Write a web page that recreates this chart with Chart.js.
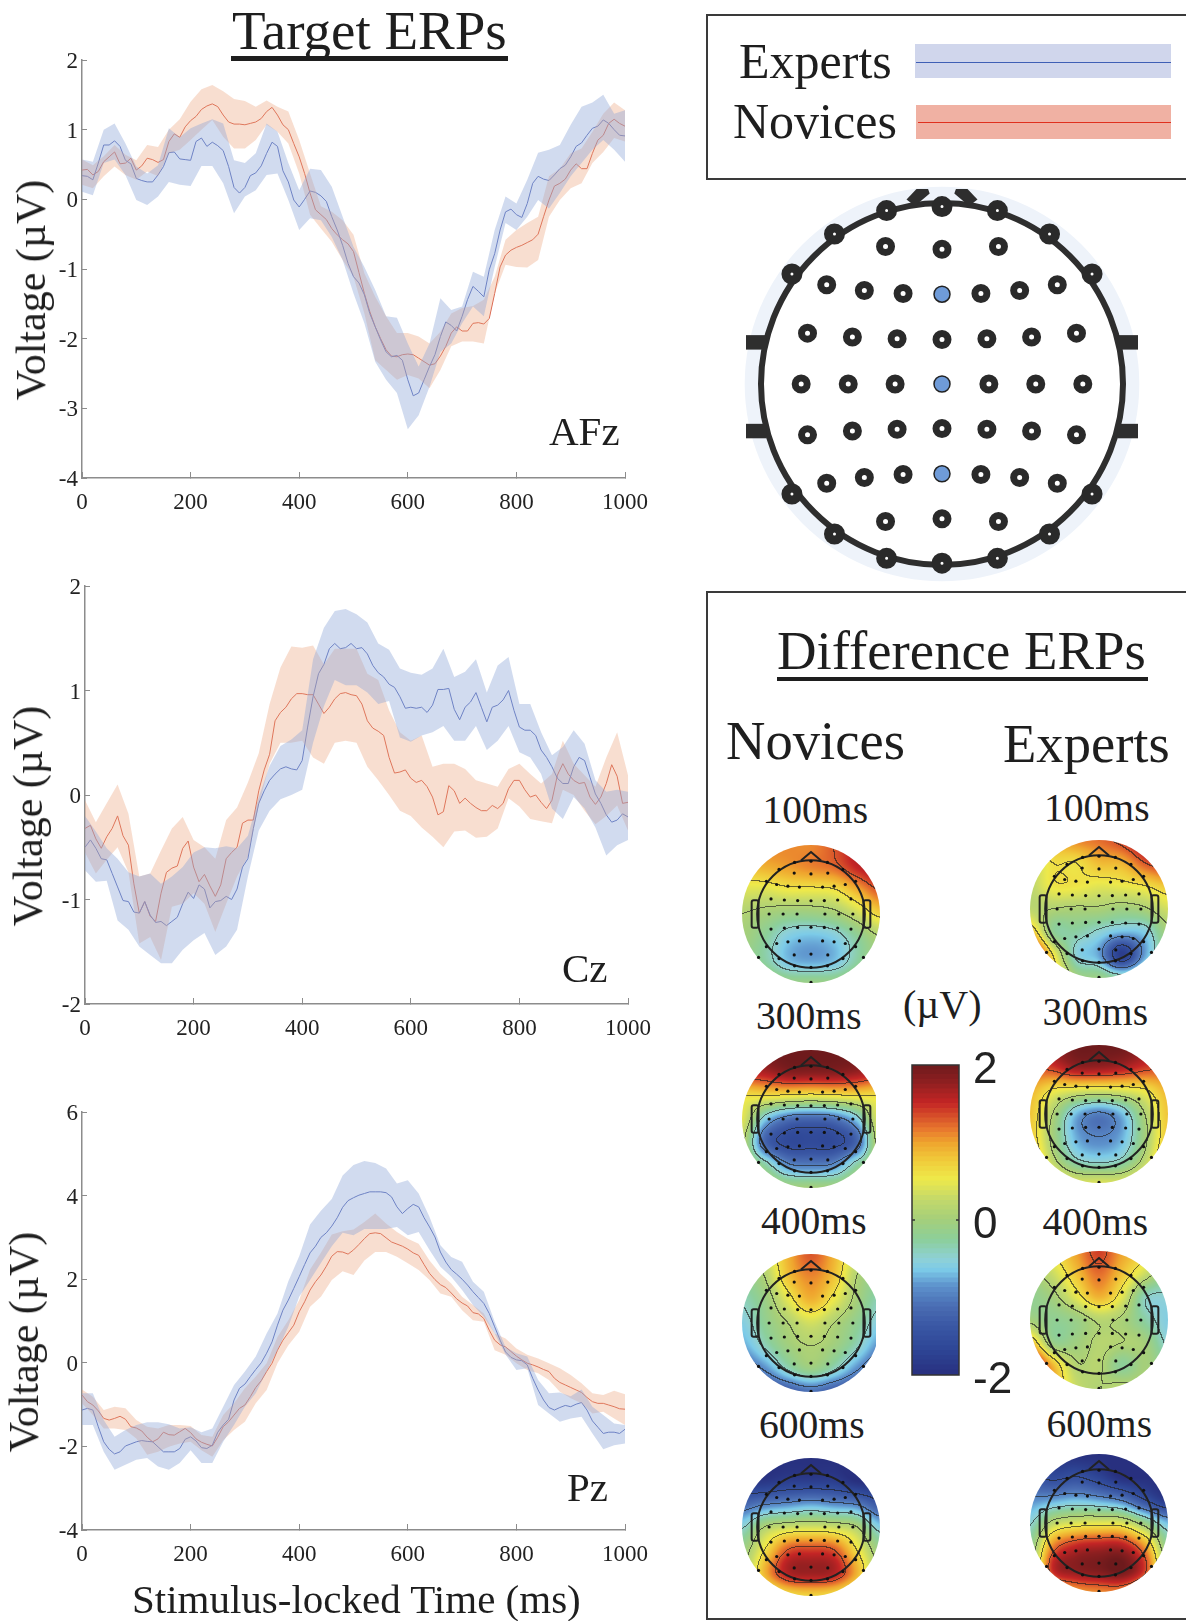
<!DOCTYPE html>
<html>
<head>
<meta charset="utf-8">
<title>Target ERPs</title>
<script src="https://cdn.jsdelivr.net/npm/chart.js@4"></script>
<style>
  html, body { margin: 0; padding: 0; background: #fff; }
  #page { position: relative; width: 1186px; height: 1621px; overflow: hidden; }
  #page canvas { position: absolute; }
  .txt { position: absolute; white-space: nowrap; line-height: 1; color: #1e1e1e; font-family: "Liberation Serif", serif; }
  .box { position: absolute; border: 2px solid #3a3a3a; box-sizing: border-box; }
  .fill { position: absolute; }
</style>
</head>
<body>
<div id="page"></div>
<script>
// ---------- data ----------
// mean lines every 10 ms, bands every 20 ms
const timeMean = [];
for (let t = 0; t <= 1000; t += 10) timeMean.push(t);
const timeBand = [];
for (let t = 0; t <= 1000; t += 20) timeBand.push(t);

// AFz
const afzExperts = [.34,.33,.28,.52,.78,.78,.84,.76,.56,.51,.30,.27,.25,.25,.35,.47,.67,.68,.58,.57,.56,.83,.88,.76,.82,.77,.70,.47,.17,.09,.17,.34,.38,.48,.66,.82,.76,.41,.25,-.01,-.11,0,.12,.10,.05,-.03,-.25,-.44,-.66,-.92,-1.11,-1.2,
  -1.37,-1.64,-1.83,-2.02,-2.19,-2.26,-2.24,-2.31,-2.59,-2.82,-2.78,-2.59,-2.4,-2.23,-1.97,-1.76,-1.81,-1.89,-1.68,-1.44,-1.25,-1.32,-1.4,-1.01,-.78,-.44,-.18,-.14,-.22,-.26,-.06,.23,.33,.29,.27,.35,.44,.49,.61,.76,.81,.92,1.02,1.05,1.14,1.09,1.0,.92,.91];
const afzNovices = [.42,.43,.35,.40,.54,.61,.68,.51,.52,.59,.42,.48,.59,.57,.53,.57,.83,.94,.89,1.04,1.13,1.19,1.29,1.34,1.37,1.33,1.21,1.11,1.08,1.08,1.07,1.09,1.11,1.16,1.26,1.32,1.21,1.07,1.0,.80,.61,.37,.09,-.15,-.22,-.29,-.42,-.51,-.58,-.64,-.75,-1.05,
  -1.35,-1.61,-1.83,-2.0,-2.16,-2.25,-2.26,-2.23,-2.22,-2.23,-2.28,-2.33,-2.38,-2.36,-2.25,-2.11,-1.92,-1.83,-1.89,-1.89,-1.78,-1.77,-1.79,-1.71,-1.35,-.97,-.8,-.73,-.69,-.66,-.62,-.58,-.5,-.25,-.01,.19,.23,.29,.42,.51,.44,.44,.66,.85,.92,1.09,1.15,1.09,1.05];
const afzExpertsUpper = [.57,.54,1.0,1.09,.80,.47,.37,.49,1.02,.89,1.02,1.09,1.15,1.09,.56,.52,.66,1.09,.97,.52,.13,.44,.42,.18,-.25,-.68,-.97,-1.3,-1.68,-1.7,-2.07,-2.4,-2.07,-1.42,-1.59,-1.54,-1.04,-1.11,-.44,.04,-.06,.28,.67,.71,.78,1.07,1.33,1.39,1.5,1.23,1.28];
const afzExpertsLower = [.11,.06,.52,.57,.35,-.01,-.08,.04,.25,.21,.19,.48,.48,.23,-.2,.04,.13,.35,.37,-.01,-.44,-.27,-.3,-.54,-.87,-1.35,-1.78,-2.33,-2.59,-2.78,-3.3,-3.1,-2.69,-2.19,-2.07,-1.78,-1.54,-1.68,-.97,-.34,-.44,-.25,-.01,-.13,.09,.33,.52,.71,.85,.71,.54];
const afzNovicesUpper = [.57,.49,.62,.78,.64,.56,.78,.75,1.0,1.15,1.4,1.58,1.64,1.55,1.44,1.41,1.33,1.42,1.33,1.26,.85,.37,-.1,-.18,-.3,-.51,-1.06,-1.4,-1.68,-1.92,-1.92,-1.97,-2.07,-1.9,-1.64,-1.56,-1.53,-1.44,-1.11,-.58,-.44,-.34,-.25,.33,.44,.66,.73,.97,1.23,1.39,1.28];
const afzNovicesLower = [.21,.16,.33,.47,.35,.28,.4,.33,.66,.71,.85,1.0,1.14,.9,.73,.73,.85,1.07,.97,.8,.37,-.22,-.42,-.61,-.87,-1.11,-1.64,-2.31,-2.45,-2.59,-2.52,-2.57,-2.71,-2.45,-2.11,-2.04,-2.04,-2.07,-1.35,-.94,-.97,-.98,-.87,-.25,-.01,.16,.23,.52,.68,.88,.83];

// Cz
const czExperts = [-.5,-.43,-.51,-.61,-.62,-.75,-.88,-1.01,-1.02,-1.12,-1.13,-1.02,-1.15,-1.22,-1.21,-1.25,-1.21,-1.17,-1.04,-.93,-.99,-.86,-.9,-1.08,-1.02,-1.01,-.97,-1.0,-.9,-.69,-.61,-.32,-.08,.04,.14,.2,.25,.27,.25,.24,.33,
  .65,.94,1.16,1.25,1.4,1.45,1.4,1.41,1.45,1.40,1.41,1.35,1.24,1.17,1.13,1.06,1.03,.94,.83,.84,.83,.84,.79,.86,1.01,1.01,1.02,.82,.72,.84,.89,.98,.84,.70,.84,.86,.91,1.0,.81,.65,.62,.62,.57,.43,.36,.27,.16,.11,.11,.27,.36,.33,.17,.01,-.08,-.19,-.26,-.24,-.18,-.21];
const czNovices = [-.32,-.29,-.42,-.51,-.40,-.32,-.2,-.39,-.48,-.85,-1.13,-1.02,-1.16,-1.21,-.94,-.74,-.70,-.68,-.51,-.44,-.69,-.83,-.76,-.87,-.97,-.86,-.61,-.55,-.5,-.27,-.24,-.24,
  .04,.24,.39,.71,.79,.84,.92,.97,.97,.96,.96,.87,.78,.84,.92,.97,.98,.96,.95,.87,.71,.64,.61,.57,.36,.21,.22,.24,.16,.12,.14,.08,-.02,-.19,-.16,.09,.04,-.08,-.03,-.08,-.12,-.15,-.15,-.1,-.13,-.08,.06,.14,.14,.05,-.02,0,-.07,-.13,-.05,.19,.3,.2,.14,.11,.12,-.02,-.09,-.02,.11,.29,.18,-.08,-.07];
const czExpertsUpper = [-.2,-.35,-.51,-.61,-.74,-.78,-.75,-.85,-.78,-.69,-.55,-.5,-.51,-.49,-.51,-.39,-.02,.28,.47,.53,.62,1.3,1.6,1.76,1.78,1.73,1.65,1.45,1.39,1.21,1.17,1.15,1.21,1.4,1.13,1.18,1.3,.98,1.24,1.32,.87,.87,.6,.38,.46,.62,.49,.14,.03,.05,.03];
const czExpertsLower = [-.72,-.83,-.82,-1.2,-1.29,-1.45,-1.53,-1.61,-1.61,-1.48,-1.39,-1.32,-1.53,-1.45,-1.29,-.78,-.34,-.15,-.04,0,.05,.5,.85,1.1,1.05,1.05,.98,.87,.9,.55,.51,.57,.6,.66,.52,.52,.66,.43,.52,.66,.41,.36,.2,-.13,-.23,-.02,-.13,-.31,-.58,-.48,-.43];
const czNovicesUpper = [-.05,-.26,-.08,.1,-.18,-.78,-.75,-.53,-.32,-.21,-.43,-.5,-.61,-.24,-.12,.12,.4,.87,1.22,1.42,1.41,1.43,1.25,1.4,1.4,1.4,1.16,1.1,.81,.6,.52,.57,.27,.3,.3,.25,.14,.11,.08,.25,.3,.2,.11,.2,.52,.3,.19,.08,.36,.6,.19];
const czNovicesLower = [-.55,-.75,-.62,-.5,-.74,-1.42,-1.36,-1.58,-1.07,-1.04,-.94,-1.04,-1.31,-1.04,-.78,-.59,-.1,.3,.5,.5,.52,.36,.3,.5,.52,.5,.27,.14,0,-.15,-.2,-.31,-.4,-.5,-.35,-.34,-.41,-.4,-.32,-.03,-.11,-.23,-.25,-.27,.05,0,-.15,-.28,-.2,-.1,-.34];

// Pz
const pzExperts = [-1.13,-1.09,-1.13,-1.53,-1.89,-2.07,-2.18,-2.13,-1.99,-1.94,-1.89,-1.86,-1.88,-1.89,-2.01,-2.13,-2.13,-2.13,-2.05,-1.83,-1.77,-1.87,-2.03,-2.05,-1.97,-1.66,-1.49,-1.35,-.89,-.61,-.51,-.33,-.16,0,.23,.5,.9,1.26,1.5,
  1.78,2.06,2.35,2.63,2.79,3.0,3.11,3.27,3.47,3.72,3.88,3.95,4.01,4.05,4.09,4.09,4.09,4.07,3.97,3.73,3.57,3.69,3.79,3.73,3.47,3.25,3.01,2.65,2.41,2.23,2.12,2.0,1.86,1.7,1.56,1.42,1.18,.86,.54,.26,.13,.07,.05,-.05,-.37,-.65,-.89,-1.07,-1.13,-1.07,-1.02,-1.05,-.99,-.95,-1.13,-1.39,-1.54,-1.69,-1.66,-1.66,-1.69,-1.59];
const pzNovices = [-.77,-.93,-1.01,-1.15,-1.33,-1.37,-1.33,-1.28,-1.35,-1.53,-1.56,-1.63,-1.78,-1.89,-1.82,-1.66,-1.72,-1.73,-1.65,-1.57,-1.67,-1.82,-1.9,-1.95,-1.99,-1.78,-1.53,-1.41,-1.25,-1.09,-1.01,-.81,-.59,-.43,-.21,-.01,.3,.54,.72,.9,1.22,1.46,
  1.74,1.94,2.1,2.31,2.55,2.66,2.65,2.6,2.7,2.83,2.97,3.09,3.11,3.09,2.99,2.89,2.84,2.79,2.72,2.63,2.57,2.35,2.14,1.99,1.87,1.8,1.67,1.53,1.43,1.36,1.2,1.17,1.06,.78,.54,.43,.38,.27,.16,.07,-.01,-.05,-.1,-.16,-.21,-.37,-.47,-.53,-.59,-.65,-.71,-.83,-.93,-.97,-.97,-1.01,-1.05,-1.1,-1.11];
const pzExpertsUpper = [-.73,-.73,-1.37,-1.77,-1.61,-1.49,-1.42,-1.42,-1.47,-1.57,-1.54,-1.66,-1.57,-1.05,-.53,-.21,.15,.7,1.18,1.95,2.55,3.31,3.64,3.92,4.48,4.73,4.83,4.78,4.65,4.29,4.37,4.05,3.49,2.81,2.53,2.42,1.94,1.7,.98,.38,.23,.15,-.41,-.73,-.71,-.8,-.64,-1.05,-1.25,-1.45,-1.49];
const pzExpertsLower = [-1.49,-1.49,-2.13,-2.56,-2.44,-2.32,-2.28,-2.48,-2.56,-2.4,-2.09,-2.4,-2.4,-1.89,-1.49,-1.05,-.73,-.21,.3,.86,1.58,1.98,2.39,2.79,3.11,3.05,3.2,3.2,3.2,3.25,3.05,3.13,2.7,2.3,2.06,1.74,1.38,1.1,.7,.2,-.17,-.13,-1.01,-1.21,-1.41,-1.33,-1.29,-1.69,-2.07,-1.97,-1.93];
const pzNovicesUpper = [-.64,-.81,-1.13,-1.05,-1.09,-1.37,-1.53,-1.57,-1.49,-1.49,-1.51,-1.73,-1.77,-1.25,-.97,-.61,-.33,-.01,.62,1.02,1.5,2.23,2.63,3.07,3.15,3.19,3.37,3.57,3.33,3.13,2.97,2.85,2.45,2.13,1.9,1.58,1.38,1.18,.7,.58,.34,.19,.1,-.01,-.13,-.29,-.49,-.73,-.77,-.67,-.75];
const pzNovicesLower = [-.97,-1.25,-1.57,-1.57,-1.61,-1.81,-2.2,-2.13,-2.01,-1.93,-1.89,-2.09,-2.25,-1.85,-1.61,-1.41,-.97,-.65,-.01,.42,.74,1.34,1.58,1.98,2.19,2.1,2.45,2.65,2.65,2.54,2.38,2.22,1.98,1.66,1.58,1.26,1.02,.98,.3,.19,-.01,-.17,-.25,-.41,-.69,-.85,-.97,-1.21,-1.17,-1.33,-1.49];

// electrode montage, head radius = 1
const ringX = [0,0,-.306,.306,-.594,.594,-.829,.829,-.829,.829,-.594,.594,-.306,.306];
const ringY = [.98,-.99,.958,.958,.829,.829,.608,.608,-.608,-.608,-.829,-.829,-.963,-.963];
const innerX = [-.312,0,.312,-.637,-.429,-.215,.215,.429,.637,-.743,-.495,-.248,0,.248,.495,.743,-.778,-.518,-.259,.259,.518,.778,-.743,-.495,-.248,0,.248,.495,.743,-.637,-.429,-.215,.215,.429,.637,-.312,0,.312];
const innerY = [.76,.744,.76,.548,.517,.5,.5,.517,.548,.281,.26,.25,.246,.25,.26,.281,0,0,0,0,0,0,-.281,-.26,-.25,-.246,-.25,-.26,-.281,-.548,-.517,-.5,-.5,-.517,-.548,-.76,-.744,-.76];
const pickedX = [0,0,0];
const pickedY = [.496,0,-.496];
const outerDotX = [-.76,.76,0];
const outerDotY = [-.63,-.63,-.99];

// scalp maps: µV on a 7x7 grid, rows top to bottom, columns left to right
const novices100 = [[1,1.1,1.1,1.1,1.3,1.6,1.7],[.8,.9,1,1.1,1.2,1.5,1.7],[.4,.4,.5,.5,.55,.9,1.3],[.1,0,-.1,-.1,0,.3,.7],[0,-.25,-.6,-.7,-.6,-.25,.1],[-.1,-.3,-.7,-.8,-.7,-.3,0],[.1,.05,-.1,-.1,-.1,.05,.1]];
const experts100 = [[.7,.9,1.1,1.2,1.4,1.7,1.7],[.3,.6,.6,.85,.9,1.3,1.5],[.2,.55,.55,.45,.5,.6,.8],[.2,.1,.05,.05,-.05,.05,.35],[.9,-.2,-.3,-.5,-.7,-.6,0],[2,.6,-.5,-.8,-1.8,-.8,-.1],[2,.9,0,-.1,-.3,-.1,.1]];
const novices300 = [[1.9,2,2,2,2,2,1.9],[1.5,1.6,1.8,1.8,1.8,1.7,1.5],[.6,.6,.55,.5,.55,.6,.6],[.45,-.6,-1.1,-1.2,-1.1,-.6,.45],[.2,-1.2,-1.6,-1.6,-1.6,-1.2,.3],[.1,-.3,-.9,-1,-.9,-.3,.1],[.1,.1,0,0,0,.1,.1]];
const experts300 = [[1.6,1.8,2,2,2,1.8,1.6],[1.3,1.4,1.7,1.7,1.6,1.4,1.3],[.9,.55,.4,.35,.4,.55,.9],[.8,.1,-.7,-1,-.7,.1,.8],[.8,0,-.75,-.95,-.75,0,.8],[1,.2,-.4,-.55,-.4,.2,1],[1.3,.7,.4,.4,.4,.7,1.3]];
const novices400 = [[.1,.3,.9,1.3,.9,.3,0],[-.2,.1,.8,1.1,.8,.1,-.2],[-.4,-.1,.45,.9,.5,0,-.4],[-.6,-.2,.1,.35,.1,-.2,-.6],[-.8,-.4,-.05,.1,-.05,-.4,-.9],[-1.2,-.9,-.4,-.1,-.4,-.9,-1.3],[-1.6,-1.5,-1.3,-1.1,-1.3,-1.5,-1.6]];
const experts400 = [[.3,.6,1,1.4,1,.7,.2],[0,.3,.8,1.2,.8,.3,-.2],[-.2,0,.45,.9,.45,-.4,-.5],[0,-.2,-.1,.15,.05,-.3,-.6],[.9,-.1,-.05,.15,.1,0,-.5],[2,.9,.15,.15,-.25,0,-.2],[2,1,.3,.1,.2,.1,0]];
const novices600 = [[-1.9,-2,-2,-2,-2,-2,-1.9],[-1.9,-1.9,-1.8,-1.8,-1.8,-2,-2],[-1.2,-1,-.9,-.8,-.9,-1,-1.4],[-.5,.1,.3,.35,.3,.1,-.6],[-.1,.6,1.3,1.4,1.3,.6,-.1],[0,.9,1.6,1.7,1.6,.9,0],[0,.3,.6,.7,.6,.3,0]];
const experts600 = [[-1.5,-1.9,-2,-2,-2,-2,-2],[-1.4,-1.6,-1.5,-1.7,-2,-2,-2],[-.9,-.8,-.7,-.8,-1,-1.5,-1.9],[-.5,.2,.4,.45,.4,-.1,-.7],[-.2,1.1,1.5,1.6,1.6,1,-.2],[-.1,1.5,1.8,1.9,2,1.4,0],[.1,.7,1,1.1,1.1,.7,.1]];
const contourLevels = [-1.5,-.95,-.45,.1,.6,1.3];

// colour scale, µV to colour
const scaleValues = [-2,-1.68,-1.38,-1.12,-.86,-.65,-.52,-.26,0,.26,.52,.77,.99,1.16,1.5,1.77,2];
const scaleColors = ['#28307f','#2e4696','#3a57a4','#4a6db3','#5d92cc','#7ccbe8','#8ed0d8','#8ccf9a','#a5cf7a','#c4d96a','#eee94a','#f0c93a','#efa42e','#e8782e','#c42525','#8e1f20','#6d1a1c'];

// ---------- helpers ----------
const page = document.getElementById('page');
const SERIF = '"Liberation Serif", serif';
const BLUE_BAND = 'rgba(140,165,215,0.4)';
const RED_BAND = 'rgba(235,160,120,0.35)';
const BLUE_LINE = '#5b6cb8';
const RED_LINE = '#d8604c';

function zip(xs, ys) {
    return xs.map((x, i) => ({x: x, y: ys[i]}));
}

function addCanvas(left, top, w, h) {
    const c = document.createElement('canvas');
    c.width = w;
    c.height = h;
    c.style.left = left + 'px';
    c.style.top = top + 'px';
    c.style.width = w + 'px';
    c.style.height = h + 'px';
    page.appendChild(c);
    return c;
}

// x is the left edge, y the baseline
function addText(text, x, y, size) {
    const s = document.createElement('span');
    s.className = 'txt';
    s.textContent = text;
    s.style.left = x + 'px';
    s.style.top = (y - 0.8375 * size) + 'px';
    s.style.fontSize = size + 'px';
    page.appendChild(s);
}

function addRotated(text, baseX, centerY, size) {
    const s = document.createElement('span');
    s.className = 'txt';
    s.textContent = text;
    s.style.left = (baseX - 0.3375 * size) + 'px';
    s.style.top = centerY + 'px';
    s.style.fontSize = size + 'px';
    s.style.transform = 'translate(-50%,-50%) rotate(-90deg)';
    page.appendChild(s);
}

function addFill(left, top, w, h, color) {
    const d = document.createElement('div');
    d.className = 'fill';
    d.style.cssText = 'left:' + left + 'px;top:' + top + 'px;width:' + w + 'px;height:' + h + 'px;background:' + color;
    page.appendChild(d);
}

function addBox(left, top, w, h) {
    const d = document.createElement('div');
    d.className = 'box';
    d.style.cssText = 'left:' + left + 'px;top:' + top + 'px;width:' + w + 'px;height:' + h + 'px';
    page.appendChild(d);
}

function hexRgb(h) {
    return [parseInt(h.slice(1, 3), 16), parseInt(h.slice(3, 5), 16), parseInt(h.slice(5, 7), 16)];
}
const scaleRgb = scaleColors.map(hexRgb);

function colourFor(v) {
    if (v <= scaleValues[0]) return scaleRgb[0];
    for (let i = 1; i < scaleValues.length; i++) {
        if (v <= scaleValues[i]) {
            const f = (v - scaleValues[i - 1]) / (scaleValues[i] - scaleValues[i - 1]);
            const a = scaleRgb[i - 1], b = scaleRgb[i];
            return [a[0] + (b[0] - a[0]) * f, a[1] + (b[1] - a[1]) * f, a[2] + (b[2] - a[2]) * f];
        }
    }
    return scaleRgb[scaleRgb.length - 1];
}

// nudge the layout padding until the plot area sits where it should
function pinArea(chart, want) {
    const pad = chart.options.layout.padding;
    for (let i = 0; i < 3; i++) {
        const a = chart.chartArea;
        pad.top += want.top - a.top;
        pad.left += want.left - a.left;
        pad.right += a.right - want.right;
        pad.bottom += a.bottom - want.bottom;
        chart.update();
    }
}

// ---------- ERP panels ----------
function erpChart(box, yMin, yMax, yStep, series) {
    // canvas is wider than the plot: the last tick label needs 40px of margin
    const padTop = 24, w = 700, h = box.bottom - box.top + padTop + 50;
    const canvasTop = box.top - padTop;
    const canvas = addCanvas(0, canvasTop, w, h);
    const chart = new Chart(canvas, {
        type: 'line',
        data: {
            datasets: [
                {data: zip(timeBand, series.expUp), borderWidth: 0, pointRadius: 0, fill: false},
                {data: zip(timeBand, series.expLo), borderWidth: 0, pointRadius: 0, fill: '-1', backgroundColor: BLUE_BAND},
                {data: zip(timeBand, series.novUp), borderWidth: 0, pointRadius: 0, fill: false},
                {data: zip(timeBand, series.novLo), borderWidth: 0, pointRadius: 0, fill: '-1', backgroundColor: RED_BAND},
                {label: 'Experts', data: zip(timeMean, series.exp), borderColor: BLUE_LINE, borderWidth: 1, pointRadius: 0, tension: 0, fill: false},
                {label: 'Novices', data: zip(timeMean, series.nov), borderColor: RED_LINE, borderWidth: 1, pointRadius: 0, tension: 0, fill: false}
            ]
        },
        options: {
            responsive: false,
            animation: false,
            layout: {autoPadding: false, padding: {top: padTop, right: w - box.right, left: 0, bottom: 10}},
            plugins: {legend: {display: false}, tooltip: {enabled: false}},
            scales: {
                x: {
                    type: 'linear', min: 0, max: 1000,
                    afterFit: s => { s.height = 40; },
                    border: {color: '#8c8c8c', width: 1.5},
                    grid: {drawOnChartArea: false, color: '#8c8c8c', tickLength: -6},
                    ticks: {stepSize: 200, padding: 17, maxRotation: 0, autoSkip: false, color: '#222', font: {family: SERIF, size: 23}, callback: v => String(v)}
                },
                y: {
                    min: yMin, max: yMax,
                    afterFit: s => { s.width = box.left; },
                    border: {color: '#8c8c8c', width: 1.5},
                    grid: {drawOnChartArea: false, color: '#8c8c8c', tickLength: -5},
                    ticks: {stepSize: yStep, padding: 9, labelOffset: 2, autoSkip: false, color: '#222', font: {family: SERIF, size: 23}, callback: v => String(v)}
                }
            }
        }
    });
    pinArea(chart, {top: padTop, left: box.left, right: box.right, bottom: box.bottom - canvasTop});
    return chart;
}

erpChart({left: 82, right: 625, top: 60, bottom: 478}, -4, 2, 1, {
    exp: afzExperts, nov: afzNovices, expUp: afzExpertsUpper, expLo: afzExpertsLower, novUp: afzNovicesUpper, novLo: afzNovicesLower
});
erpChart({left: 85, right: 628, top: 586, bottom: 1004}, -2, 2, 1, {
    exp: czExperts, nov: czNovices, expUp: czExpertsUpper, expLo: czExpertsLower, novUp: czNovicesUpper, novLo: czNovicesLower
});
erpChart({left: 82, right: 625, top: 1112, bottom: 1530}, -4, 6, 2, {
    exp: pzExperts, nov: pzNovices, expUp: pzExpertsUpper, expLo: pzExpertsLower, novUp: pzNovicesUpper, novLo: pzNovicesLower
});

addText('Target ERPs', 232, 49, 55);
addFill(231, 56, 277, 4.5, '#1e1e1e');
addRotated('Voltage (\u00b5V)', 45, 290, 42);
addRotated('Voltage (\u00b5V)', 42, 816, 42);
addRotated('Voltage (\u00b5V)', 38, 1342, 42);
addText('AFz', 549, 445, 41);
addText('Cz', 562, 982, 41);
addText('Pz', 567, 1501, 41);
addText('Stimulus-locked Time (ms)', 132, 1613, 41);

// ---------- legend box ----------
addBox(706, 14, 490, 166);
addFill(915, 44, 256, 34, '#d0d6ec');
addFill(916, 61.5, 255, 1.2, '#3f5fb5');
addFill(916, 105, 255, 34, '#f0b1a3');
addFill(918, 121.5, 253, 1.4, '#e0301e');
addText('Experts', 739, 78, 50);
addText('Novices', 733, 138, 50);

// ---------- electrode montage ----------
const montageMarks = [
    [[-1.083,.27],[-.97,.27],[-.97,.19],[-1.083,.19]],
    [[1.083,.27],[.97,.27],[.97,.19],[1.083,.19]],
    [[-1.083,-.22],[-.97,-.22],[-.97,-.30],[-1.083,-.30]],
    [[1.083,-.22],[.97,-.22],[.97,-.30],[1.083,-.30]],
    [[-.196,1.02],[-.141,1.077],[-.077,1.077],[-.068,1.052],[-.15,.983]],
    [[.196,1.02],[.141,1.077],[.077,1.077],[.068,1.052],[.15,.983]]
];

const montagePlugin = {
    id: 'montage',
    beforeDatasetsDraw(chart) {
        const ctx = chart.ctx, x = chart.scales.x, y = chart.scales.y;
        const cx = x.getPixelForValue(0), cy = y.getPixelForValue(0);
        const unit = x.getPixelForValue(1) - cx;
        ctx.save();
        ctx.fillStyle = '#eef3fa';
        ctx.beginPath();
        ctx.arc(cx, cy, 1.09 * unit, 0, Math.PI * 2);
        ctx.fill();
        ctx.fillStyle = '#fff';
        ctx.beginPath();
        ctx.arc(cx, cy, unit, 0, Math.PI * 2);
        ctx.fill();
        ctx.strokeStyle = '#2e2e2e';
        ctx.lineWidth = 6;
        ctx.stroke();
        ctx.fillStyle = '#2e2e2e';
        for (const m of montageMarks) {
            ctx.beginPath();
            m.forEach((p, i) => {
                const px = x.getPixelForValue(p[0]), py = y.getPixelForValue(p[1]);
                if (i === 0) ctx.moveTo(px, py); else ctx.lineTo(px, py);
            });
            ctx.closePath();
            ctx.fill();
        }
        ctx.restore();
    }
};

const montageRange = 200 / 181;
new Chart(addCanvas(742, 184, 400, 400), {
    type: 'scatter',
    data: {
        datasets: [
            {data: zip(ringX, ringY), pointRadius: 6, pointBorderWidth: 9, pointBackgroundColor: '#fff', pointBorderColor: '#2a2a2a'},
            {data: zip(innerX, innerY), pointRadius: 6, pointBorderWidth: 7, pointBackgroundColor: '#fff', pointBorderColor: '#2a2a2a'},
            {data: zip(pickedX, pickedY), pointRadius: 8, pointBorderWidth: 1.5, pointBackgroundColor: '#6f9bd8', pointBorderColor: '#222'}
        ]
    },
    options: {
        responsive: false,
        animation: false,
        layout: {autoPadding: false},
        plugins: {legend: {display: false}, tooltip: {enabled: false}},
        scales: {
            x: {display: false, min: -montageRange, max: montageRange},
            y: {display: false, min: -montageRange, max: montageRange}
        }
    },
    plugins: [montagePlugin]
});

// ---------- difference ERP box ----------
addBox(706, 591, 490, 1029);
addText('Difference ERPs', 777, 670, 54.8);
addFill(777, 676.5, 371, 4, '#1e1e1e');
addText('Novices', 726, 760, 54.6);
addText('Experts', 1003, 762.5, 54.6);

// Catmull-Rom through the 7x7 grid
function cubic(a, b, c, d, f) {
    return b + 0.5 * f * (c - a + f * (2 * a - 5 * b + 4 * c - d + f * (3 * (b - c) + d - a)));
}
function gridValue(grid, nx, ny) {
    const gx = (nx + 1) * 3, gy = (1 - ny) * 3;
    const ix = Math.min(5, Math.max(0, Math.floor(gx))), iy = Math.min(5, Math.max(0, Math.floor(gy)));
    const fx = gx - ix, fy = gy - iy;
    const col = [];
    for (let r = -1; r <= 2; r++) {
        const row = grid[Math.min(6, Math.max(0, iy + r))];
        const at = k => row[Math.min(6, Math.max(0, ix + k))];
        col.push(cubic(at(-1), at(0), at(1), at(2), fx));
    }
    return cubic(col[0], col[1], col[2], col[3], fy);
}
function levelOf(v) {
    let n = 0;
    for (const l of contourLevels) if (v > l) n++;
    return n;
}

const HEAD = 0.78;
const topoPlugin = {
    id: 'topo',
    beforeDatasetsDraw(chart, args, opts) {
        const ctx = chart.ctx, x = chart.scales.x, y = chart.scales.y;
        const w = chart.width, h = chart.height;
        const off = document.createElement('canvas');
        off.width = w;
        off.height = h;
        const octx = off.getContext('2d');
        const img = octx.createImageData(w, h);
        const field = new Float32Array((w + 1) * (h + 1));
        for (let j = 0; j <= h; j++) {
            for (let i = 0; i <= w; i++) {
                field[j * (w + 1) + i] = gridValue(opts.grid, x.getValueForPixel(i + 0.5), y.getValueForPixel(j + 0.5));
            }
        }
        for (let j = 0; j < h; j++) {
            for (let i = 0; i < w; i++) {
                const v = field[j * (w + 1) + i];
                let c = colourFor(v);
                const lv = levelOf(v);
                if (lv !== levelOf(field[j * (w + 1) + i + 1]) || lv !== levelOf(field[(j + 1) * (w + 1) + i])) {
                    c = [c[0] * 0.35 + 20, c[1] * 0.35 + 20, c[2] * 0.35 + 20];
                }
                const p = (j * w + i) * 4;
                img.data[p] = c[0];
                img.data[p + 1] = c[1];
                img.data[p + 2] = c[2];
                img.data[p + 3] = 255;
            }
        }
        octx.putImageData(img, 0, 0);

        const cx = x.getPixelForValue(0), cy = y.getPixelForValue(0);
        const unit = x.getPixelForValue(1) - cx;
        ctx.save();
        ctx.beginPath();
        ctx.arc(cx, cy, unit, 0, Math.PI * 2);
        ctx.clip();
        ctx.drawImage(off, 0, 0);
        ctx.restore();

        // head, nose, ears
        ctx.save();
        ctx.strokeStyle = '#222';
        ctx.lineWidth = 2;
        ctx.lineJoin = 'round';
        ctx.beginPath();
        ctx.arc(cx, cy, HEAD * unit, 0, Math.PI * 2);
        ctx.stroke();
        ctx.beginPath();
        ctx.moveTo(cx - 0.145 * unit, cy - 0.775 * unit);
        ctx.lineTo(cx, cy - 0.9 * unit);
        ctx.lineTo(cx + 0.145 * unit, cy - 0.775 * unit);
        ctx.stroke();
        for (const side of [-1, 1]) {
            const ex = cx + side * 0.81 * unit;
            ctx.beginPath();
            ctx.roundRect(ex - 0.05 * unit, cy - 0.2 * unit, 0.1 * unit, 0.4 * unit, 2);
            ctx.stroke();
        }
        ctx.restore();
    }
};

function topoMap(left, top, grid, clipRight) {
    const canvas = addCanvas(left, top, 138, 138);
    if (clipRight) canvas.style.clipPath = 'inset(0 ' + clipRight + 'px 0 0)';
    const dotX = ringX.concat(innerX).map(v => v * HEAD).concat(outerDotX);
    const dotY = ringY.concat(innerY).map(v => v * HEAD).concat(outerDotY);
    return new Chart(canvas, {
        type: 'scatter',
        data: {datasets: [{data: zip(dotX, dotY), pointRadius: 1.6, pointBorderWidth: 0, pointBackgroundColor: '#111', clip: false}]},
        options: {
            responsive: false,
            animation: false,
            layout: {autoPadding: false},
            plugins: {legend: {display: false}, tooltip: {enabled: false}, topo: {grid: grid}},
            scales: {
                x: {display: false, min: -1, max: 1},
                y: {display: false, min: -1, max: 1}
            }
        },
        plugins: [topoPlugin]
    });
}

const colLeft = 810.5 - 69, colRight = 1098.7 - 69;
topoMap(colLeft, 914 - 69, novices100);
topoMap(colRight, 909 - 69, experts100);
topoMap(colLeft, 1118.5 - 69, novices300, 4);
topoMap(colRight, 1114 - 69, experts300);
topoMap(colLeft, 1323 - 69, novices400, 4);
topoMap(colRight, 1320 - 69, experts400);
topoMap(colLeft, 1527 - 69, novices600);
topoMap(colRight, 1523 - 69, experts600);

addText('100ms', 762.5, 824, 39.6);
addText('100ms', 1044, 822, 39.6);
addText('300ms', 756, 1030.5, 39.6);
addText('300ms', 1042.5, 1026.5, 39.6);
addText('400ms', 761, 1235, 39.6);
addText('400ms', 1042.5, 1236.5, 39.6);
addText('600ms', 759, 1439, 39.6);
addText('600ms', 1046.5, 1438, 39.6);
addText('(\u00b5V)', 903, 1018, 40);

// ---------- colour bar ----------
const barCells = [];
for (let i = 0; i < 64; i++) barCells.push(-2 + i * 4 / 64);

const barFrame = {
    id: 'barFrame',
    afterDatasetsDraw(chart) {
        const ctx = chart.ctx, a = chart.chartArea, y0 = chart.scales.y.getPixelForValue(0);
        ctx.save();
        ctx.strokeStyle = '#333';
        ctx.lineWidth = 1.5;
        ctx.strokeRect(a.left, a.top, a.width, a.height);
        ctx.beginPath();
        ctx.moveTo(a.left, y0);
        ctx.lineTo(a.left + 3, y0);
        ctx.moveTo(a.right, y0);
        ctx.lineTo(a.right - 3, y0);
        ctx.stroke();
        ctx.restore();
    }
};

// tall canvas: the big tick labels keep about 40px free above and below the bar
const colourBar = new Chart(addCanvas(905, 1000, 114, 440), {
    type: 'bar',
    data: {
        labels: ['\u00b5V'],
        datasets: barCells.map(v => {
            const c = colourFor(v + 2 / 64);
            return {
                data: [[v, v + 4 / 64 + 0.005]],
                backgroundColor: 'rgb(' + c.map(Math.round).join(',') + ')',
                borderWidth: 0,
                grouped: false,
                barPercentage: 1,
                categoryPercentage: 1
            };
        })
    },
    options: {
        responsive: false,
        animation: false,
        layout: {autoPadding: false, padding: {left: 7, top: 65, bottom: 65, right: 0}},
        plugins: {legend: {display: false}, tooltip: {enabled: false}},
        scales: {
            x: {display: false},
            y: {
                position: 'right',
                min: -2, max: 2,
                afterFit: s => { s.width = 60; },
                border: {display: false},
                grid: {display: false},
                ticks: {stepSize: 2, padding: 6, labelOffset: 6, color: '#222', font: {family: '"Liberation Sans", sans-serif', size: 44}}
            }
        }
    },
    plugins: [barFrame]
});
pinArea(colourBar, {top: 65, left: 7, right: 54, bottom: 375});
</script>
</body>
</html>
